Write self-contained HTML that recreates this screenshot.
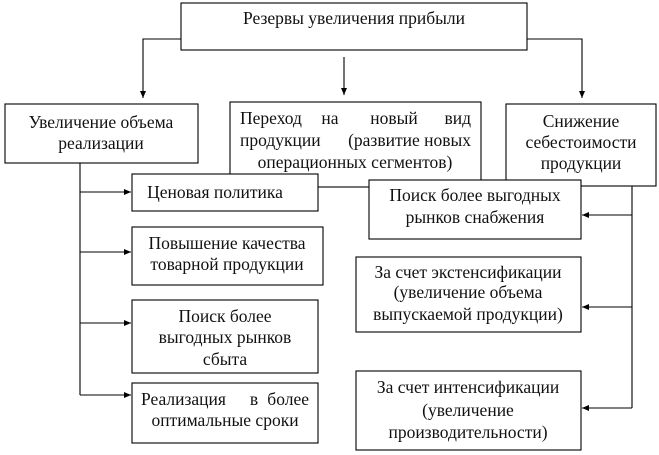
<!DOCTYPE html>
<html><head><meta charset="utf-8"><style>
html,body{margin:0;padding:0;background:#fff;}
svg{display:block;}
text{font-family:"Liberation Serif",serif;font-size:17.5px;fill:#111;}
</style></head><body>
<svg width="659" height="455" viewBox="0 0 659 455" xmlns="http://www.w3.org/2000/svg">
<defs><marker id="a" markerWidth="8" markerHeight="8" refX="7" refY="4" orient="auto" markerUnits="userSpaceOnUse"><path d="M0,1 L7,4 L0,7 z" fill="#000"/></marker></defs>
<g stroke="#000" stroke-width="1.1" fill="none">
<rect x="181" y="3" width="346" height="47" fill="#fff"/>
<polyline points="181,39 143,39 143,98" marker-end="url(#a)"/>
<polyline points="527,39 582,39 582,98" marker-end="url(#a)"/>
<line x1="344" y1="57" x2="344" y2="95" marker-end="url(#a)"/>
<rect x="230" y="102" width="251" height="85" fill="#fff"/>
<rect x="5" y="104" width="193" height="59" fill="#fff"/>
<rect x="506" y="104" width="150" height="82" fill="#fff"/>
<polyline points="80,163 80,395"/>
<line x1="80" y1="192" x2="131" y2="192" marker-end="url(#a)"/>
<line x1="80" y1="252" x2="131" y2="252" marker-end="url(#a)"/>
<line x1="80" y1="323" x2="131" y2="323" marker-end="url(#a)"/>
<line x1="80" y1="395" x2="131" y2="395" marker-end="url(#a)"/>
<polyline points="632,186 632,408"/>
<line x1="632" y1="215" x2="582" y2="215" marker-end="url(#a)"/>
<line x1="632" y1="307" x2="582" y2="307" marker-end="url(#a)"/>
<line x1="632" y1="408" x2="582" y2="408" marker-end="url(#a)"/>
<rect x="132" y="174" width="186" height="37" fill="#fff"/>
<rect x="369" y="180" width="212" height="59" fill="#fff"/>
<rect x="132" y="227" width="191" height="58" fill="#fff"/>
<rect x="132" y="300" width="186" height="73" fill="#fff"/>
<rect x="132" y="383" width="186" height="60" fill="#fff"/>
<rect x="356" y="257" width="225" height="75" fill="#fff"/>
<rect x="356" y="371" width="225" height="79" fill="#fff"/>
</g>
<g text-anchor="middle">
<text x="354" y="24">Резервы увеличения прибыли</text>
<text x="101" y="128">Увеличение объема</text>
<text x="101" y="149">реализации</text>
<text x="240" y="124" text-anchor="start">Переход</text>
<text x="330" y="124">на</text>
<text x="394" y="124">новый</text>
<text x="471" y="124" text-anchor="end">вид</text>
<text x="240" y="146" text-anchor="start">продукции</text>
<text x="471" y="146" text-anchor="end">(развитие новых</text>
<text x="355" y="168">операционных сегментов)</text>
<text x="581" y="127">Снижение</text>
<text x="581" y="148">себестоимости</text>
<text x="581" y="169">продукции</text>
<text x="215" y="198">Ценовая политика</text>
<text x="475" y="201">Поиск более выгодных</text>
<text x="475" y="223">рынков снабжения</text>
<text x="227" y="249">Повышение качества</text>
<text x="227" y="270">товарной продукции</text>
<text x="225" y="322">Поиск более</text>
<text x="225" y="343">выгодных рынков</text>
<text x="225" y="365">сбыта</text>
<text x="141" y="405" text-anchor="start">Реализация</text>
<text x="254" y="405">в</text>
<text x="309" y="405" text-anchor="end">более</text>
<text x="225" y="426">оптимальные сроки</text>
<text x="468" y="278">За счет экстенсификации</text>
<text x="468" y="298">(увеличение объема</text>
<text x="468" y="320">выпускаемой продукции)</text>
<text x="468" y="393">За счет интенсификации</text>
<text x="468" y="416">(увеличение</text>
<text x="468" y="438">производительности)</text>
</g>
</svg>
</body></html>
